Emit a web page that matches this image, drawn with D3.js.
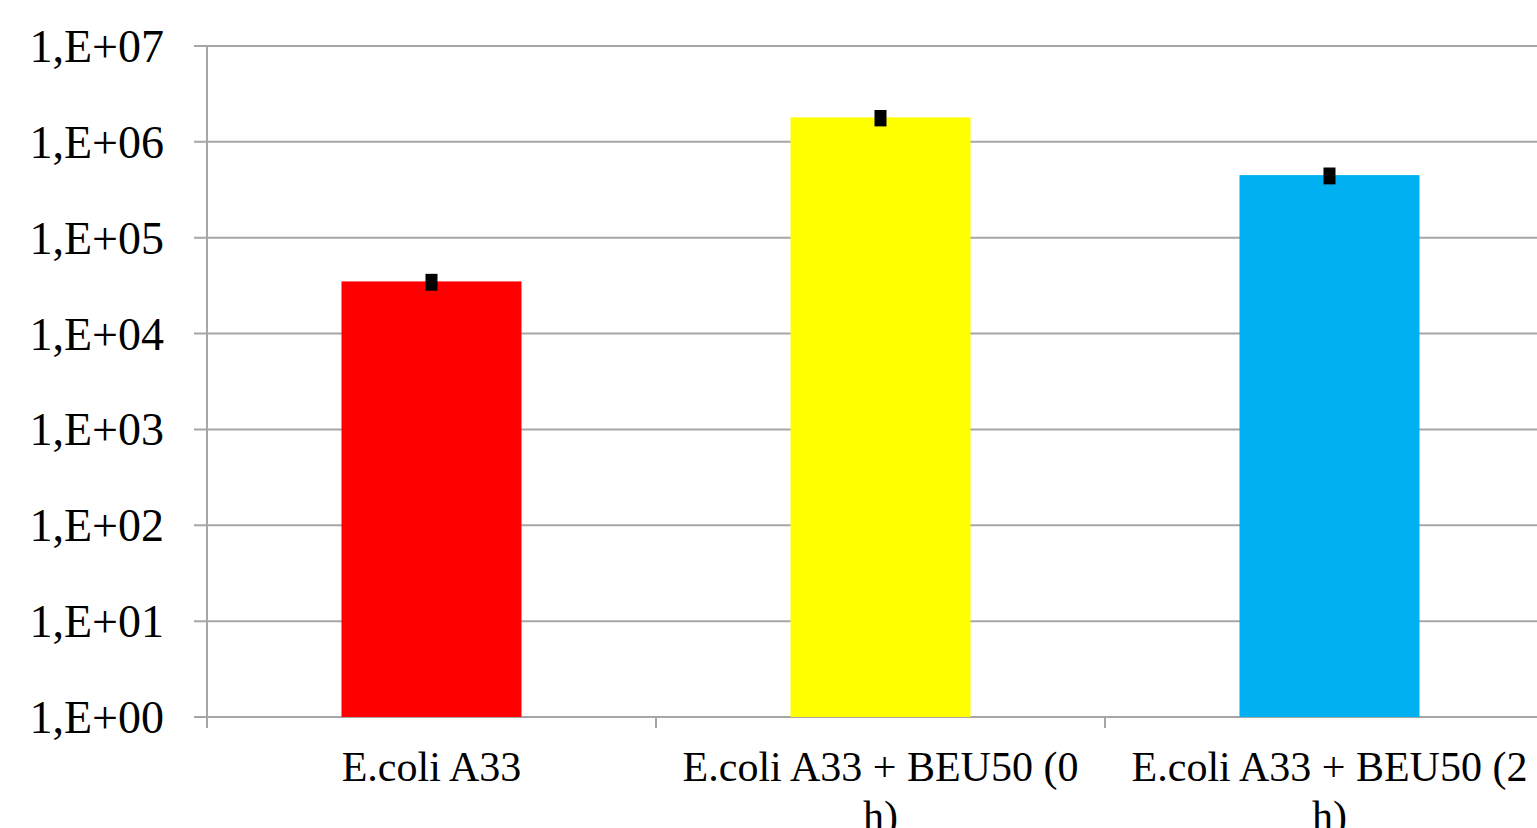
<!DOCTYPE html>
<html>
<head>
<meta charset="utf-8">
<script src="https://cdn.jsdelivr.net/npm/d3@7"></script>
<style>
body{margin:0;background:#fff;overflow:hidden}
text{font-family:"Liberation Serif","Times New Roman",serif;fill:#000}
</style>
</head>
<body>
<svg></svg>
<script>
// data
var categories = ["E.coli A33", "E.coli A33 + BEU50 (0 h)", "E.coli A33 + BEU50 (2 h)"]
var labelLines = [["E.coli A33"], ["E.coli A33 + BEU50 (0", "h)"], ["E.coli A33 + BEU50 (2", "h)"]]
var values = [35000, 1800000, 450000]
var errors = [7000, 350000, 90000]
var colors = ["#ff0000", "#ffff00", "#00b0f0"]
var yTicks = [1, 10, 100, 1000, 10000, 100000, 1000000, 10000000]
var yTickLabels = ["1,E+00", "1,E+01", "1,E+02", "1,E+03", "1,E+04", "1,E+05", "1,E+06", "1,E+07"]

var screen = {width:1537, height:828}
var plot = {left:207, right:1554, top:46, bottom:717}
var grey = "#a6a6a6"

var svg = d3.select("svg")
    .attr("width", screen.width)
    .attr("height", screen.height)

var xScale = d3.scaleBand()
    .domain(categories)
    .range([plot.left, plot.right])
    .paddingInner(0)
    .paddingOuter(0)

var yScale = d3.scaleLog()
    .domain([1, 10000000])
    .range([plot.bottom, plot.top])

// gridlines
svg.append("g")
   .selectAll("line")
   .data(yTicks)
   .enter()
   .append("line")
   .attr("x1", plot.left - 13)
   .attr("x2", plot.right)
   .attr("y1", function(d){return yScale(d)})
   .attr("y2", function(d){return yScale(d)})
   .attr("stroke", grey)
   .attr("stroke-width", 2)

// y axis line
svg.append("line")
   .attr("x1", plot.left).attr("x2", plot.left)
   .attr("y1", plot.top).attr("y2", plot.bottom + 11)
   .attr("stroke", grey)
   .attr("stroke-width", 2)

// x tick marks between categories
var xTickPos = categories.map(function(d){return xScale(d)})
svg.append("g")
   .selectAll("line")
   .data(xTickPos)
   .enter()
   .append("line")
   .attr("x1", function(d){return d})
   .attr("x2", function(d){return d})
   .attr("y1", plot.bottom)
   .attr("y2", plot.bottom + 11)
   .attr("stroke", grey)
   .attr("stroke-width", 2)

// y labels
svg.append("g")
   .selectAll("text")
   .data(yTicks)
   .enter()
   .append("text")
   .attr("x", 164)
   .attr("y", function(d){return yScale(d) + 16})
   .attr("text-anchor", "end")
   .attr("font-size", 46)
   .text(function(d, i){return yTickLabels[i]})

// bars
var barW = 180
svg.append("g")
   .selectAll("rect")
   .data(values)
   .enter()
   .append("rect")
   .attr("x", function(d, i){return xScale(categories[i]) + xScale.bandwidth()/2 - barW/2})
   .attr("y", function(d){return yScale(d)})
   .attr("width", barW)
   .attr("height", function(d){return plot.bottom - yScale(d)})
   .attr("fill", function(d, i){return colors[i]})

// error bars (drawn as small black blocks)
svg.append("g")
   .selectAll("rect")
   .data(values)
   .enter()
   .append("rect")
   .attr("x", function(d, i){return xScale(categories[i]) + xScale.bandwidth()/2 - 6})
   .attr("y", function(d, i){return yScale(d + errors[i])})
   .attr("width", 12)
   .attr("height", function(d, i){return yScale(d - errors[i]) - yScale(d + errors[i])})
   .attr("fill", "#000")

// x labels
var xl = svg.append("g")
   .selectAll("text")
   .data(labelLines)
   .enter()
   .append("text")
   .attr("x", function(d, i){return xScale(categories[i]) + xScale.bandwidth()/2})
   .attr("y", 781)
   .attr("text-anchor", "middle")
   .attr("font-size", 42)
xl.selectAll("tspan")
  .data(function(d){return d})
  .enter()
  .append("tspan")
  .attr("x", function(){return d3.select(this.parentNode).attr("x")})
  .attr("dy", function(d, i){return i == 0 ? 0 : 49})
  .text(function(d){return d})
</script>
</body>
</html>
